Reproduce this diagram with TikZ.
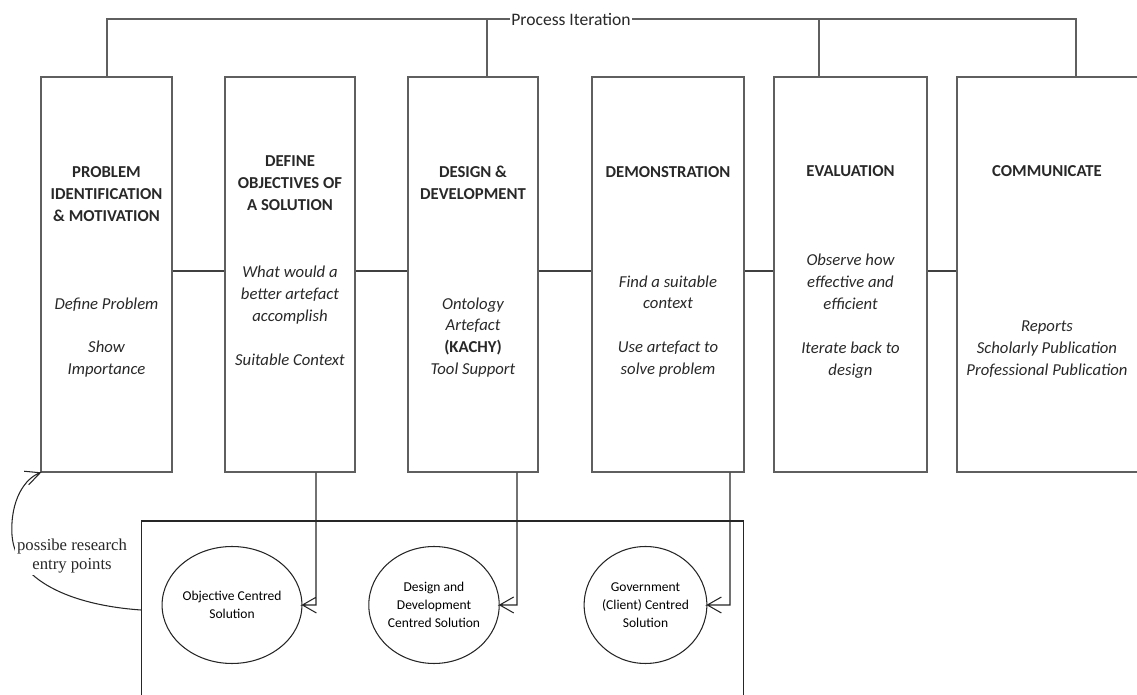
\documentclass[tikz,border=0pt]{standalone}
\usepackage{fontspec}
\setmainfont{Carlito}
\newfontfamily\notefont{Liberation Serif}
\usetikzlibrary{shapes.geometric}
\definecolor{boxgray}{RGB}{95,95,95}
\definecolor{inkgray}{RGB}{40,40,40}
\begin{document}
\begin{tikzpicture}[x=0.02cm,y=-0.02cm,
  stagebox/.style={draw=boxgray, line width=0.9pt, minimum height=7.9cm, inner sep=0pt},
  stagetitle/.style={font=\fontsize{9.5}{12.5}\selectfont\bfseries, text=inkgray, align=center, inner sep=0pt},
  stagebody/.style={font=\fontsize{9.5}{12.5}\selectfont\itshape, text=inkgray, align=center, inner sep=0pt},
  link/.style={draw=black!75, line width=0.7pt},
  iterline/.style={draw=boxgray, line width=0.8pt},
  solution/.style={draw=black!85, line width=0.6pt, ellipse, minimum width=2.14cm, minimum height=2.34cm, inner sep=0pt, align=center, font=\fontsize{7.7}{10.2}\selectfont},
  entryline/.style={draw=black!85, line width=0.6pt}
]
\useasboundingbox (0,0) rectangle (1137,695);
\clip (0,0) rectangle (1137,695);

% the six process stages
\node[stagebox, minimum width=2.62cm] (b1) at (106.5,274.5) {};
\node[stagebox, minimum width=2.60cm] (b2) at (290,274.5) {};
\node[stagebox, minimum width=2.60cm] (b3) at (473,274.5) {};
\node[stagebox, minimum width=3.04cm] (b4) at (668,274.5) {};
\node[stagebox, minimum width=3.06cm] (b5) at (850.5,274.5) {};
\node[stagebox, minimum width=3.66cm] (b6) at (1048.5,274.5) {};

% stage headings
\node[stagetitle] (t1) at (106.5,194) {PROBLEM\\IDENTIFICATION\\\& MOTIVATION};
\node[stagetitle] (t2) at (290,183) {DEFINE\\OBJECTIVES OF\\A SOLUTION};
\node[stagetitle] (t3) at (473,182.5) {DESIGN \&\\DEVELOPMENT};
\node[stagetitle] (t4) at (668,172) {DEMONSTRATION};
\node[stagetitle] (t5) at (850.5,171) {EVALUATION};
\node[stagetitle] (t6) at (1047,171) {COMMUNICATE};

% stage activities
\node[stagebody] (p1) at (106.5,337.5) {Define Problem\\[12.5pt]Show\\Importance};
\node[stagebody] (p2) at (290,315.5) {What would a\\better artefact\\accomplish\\[12.5pt]Suitable Context};
\node[stagebody] (p3) at (473,337.5) {Ontology\\Artefact\\{\upshape\bfseries (KACHY)}\\Tool Support};
\node[stagebody] (p4) at (668,326.5) {Find a suitable\\context\\[12.5pt]Use artefact to\\solve problem};
\node[stagebody] (p5) at (850.5,316.5) {Observe how\\effective and\\efficient\\[12.5pt]Iterate back to\\design};
\node[stagebody] (p6) at (1047,349) {Reports\\Scholarly Publication\\Professional Publication};

% links between consecutive stages
\foreach \a/\b in {b1/b2,b2/b3,b3/b4,b4/b5,b5/b6}
  \draw[link] (\a.east |- 0,271) -- (\b.west |- 0,271);

% process iteration bus
\coordinate (i1) at (107,19);
\coordinate (i2) at (487,19);
\coordinate (i3) at (819,19);
\coordinate (i4) at (1076,19);
\draw[iterline] (i1 |- b1.north) -- (i1) -- (i4) -- (i4 |- b6.north);
\draw[iterline] (i2) -- (i2 |- b3.north);
\draw[iterline] (i3) -- (i3 |- b5.north);
\node[fill=white, inner xsep=0.6pt, inner ysep=1pt, font=\fontsize{10}{12}\selectfont, text=inkgray] (iter) at (571,19) {Process Iteration};

% research entry points
\node[draw=black!85, line width=0.6pt, minimum width=12.06cm, minimum height=3.5cm, inner sep=0pt] (sol) at (442.5,608.5) {};
\node[solution] (c1) at (232,605) {Objective Centred\\Solution};
\node[solution] (c2) at (434,605) {Design and\\Development\\Centred Solution};
\node[solution] (c3) at (645.5,605) {Government\\(Client) Centred\\Solution};

% stage-to-solution arrows, each ending in an open V head
\coordinate (d1) at (316,605);
\coordinate (d2) at (517,605);
\coordinate (d3) at (730,605);
\draw[entryline] (d1 |- b2.south) -- (d1) -- (c1.east) -- ++(14,-8) (c1.east) -- ++(14,8);
\draw[entryline] (d2 |- b3.south) -- (d2) -- (c2.east) -- ++(14,-8) (c2.east) -- ++(14,8);
\draw[entryline] (d3 |- b4.south) -- (d3) -- (c3.east) -- ++(14,-8) (c3.east) -- ++(14,8);

% curved arrow back to the first stage
\coordinate (e0) at (141,610);
\draw[entryline] (e0) .. controls (70,605) and (15,580) .. (12,535)
  .. controls (10,500) and (25,478) .. (b1.south west)
  -- ++(-11.5,12) (b1.south west) -- ++(-16,-1.5);
\node[fill=white, inner sep=1pt, align=center, font=\notefont\fontsize{9.5}{11.3}\selectfont, text=inkgray] (entry) at (72,556) {possibe research\\entry points};
\end{tikzpicture}
\end{document}
